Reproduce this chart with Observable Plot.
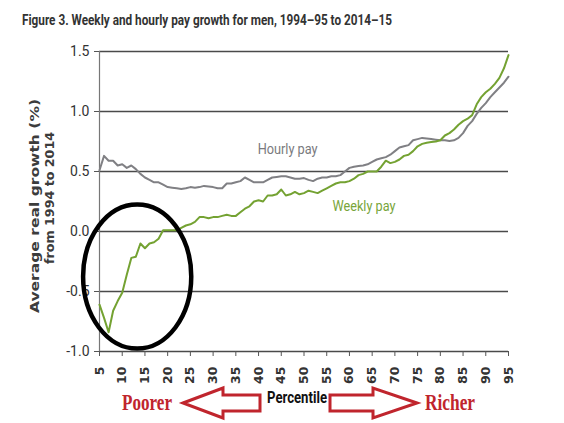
<!DOCTYPE html>
<html>
<head>
<meta charset="utf-8">
<script src="https://cdn.jsdelivr.net/npm/d3@7"></script>
<script src="https://cdn.jsdelivr.net/npm/@observablehq/plot@0.6"></script>
<style>
  body { margin: 0; background: #fff; width: 564px; height: 423px; overflow: hidden; }
  #title { height: 38px; box-sizing: border-box; padding: 11px 0 0 22px; white-space: nowrap; }
  #title span { display: inline-block; transform: scaleX(0.76); transform-origin: 0 50%; font-family: Roboto, sans-serif; font-weight: bold; font-size: 15.5px; color: #333; }
  svg { display: block; }
</style>
</head>
<body>
<div id="title"><span>Figure 3. Weekly and hourly pay growth for men, 1994–95 to 2014–15</span></div>
<div id="chart"></div>
<script>
const percentiles = [5,6,7,8,9,10,11,12,13,14,15,16,17,18,19,20,21,22,23,24,25,26,27,28,29,30,31,32,33,34,35,36,37,38,39,40,41,42,43,44,45,46,47,48,49,50,51,52,53,54,55,56,57,58,59,60,61,62,63,64,65,66,67,68,69,70,71,72,73,74,75,76,77,78,79,80,81,82,83,84,85,86,87,88,89,90,91,92,93,94,95];

const weeklyPay = [-0.61,-0.72,-0.84,-0.66,-0.58,-0.51,-0.36,-0.22,-0.21,-0.10,-0.14,-0.10,-0.09,-0.06,0.01,0.01,0.01,0.01,0.03,0.05,0.06,0.08,0.12,0.12,0.11,0.12,0.12,0.13,0.14,0.13,0.13,0.16,0.19,0.21,0.25,0.26,0.25,0.30,0.30,0.31,0.35,0.30,0.31,0.33,0.31,0.32,0.34,0.33,0.32,0.34,0.36,0.38,0.40,0.41,0.41,0.42,0.44,0.47,0.48,0.50,0.50,0.50,0.54,0.59,0.57,0.58,0.60,0.63,0.64,0.67,0.71,0.73,0.74,0.745,0.75,0.76,0.80,0.82,0.85,0.89,0.92,0.94,0.97,1.06,1.12,1.16,1.19,1.23,1.28,1.36,1.47];

const hourlyPay = [0.51,0.63,0.59,0.59,0.55,0.56,0.53,0.55,0.52,0.48,0.45,0.43,0.41,0.41,0.39,0.37,0.365,0.36,0.355,0.36,0.37,0.365,0.37,0.38,0.375,0.37,0.36,0.36,0.40,0.40,0.41,0.42,0.45,0.43,0.41,0.41,0.41,0.43,0.45,0.455,0.46,0.46,0.45,0.44,0.44,0.445,0.43,0.42,0.44,0.45,0.45,0.46,0.46,0.47,0.50,0.53,0.54,0.545,0.55,0.56,0.58,0.60,0.61,0.62,0.64,0.67,0.70,0.71,0.72,0.76,0.77,0.78,0.775,0.77,0.765,0.76,0.76,0.755,0.76,0.78,0.82,0.88,0.92,0.98,1.03,1.07,1.12,1.16,1.20,1.24,1.29];

const yTicks = [-1.0, -0.5, 0.0, 0.5, 1.0, 1.5];
const xTicks = [5,10,15,20,25,30,35,40,45,50,55,60,65,70,75,80,85,90,95];
const seriesLabels = ["Hourly pay", "Weekly pay"];
const yLabelLines = ["Average real growth (%)", "from 1994 to 2014"];
const xLabel = "Percentile";
const sideLabels = ["Poorer", "Richer"];

const weekly = percentiles.map((p, i) => ({p, v: weeklyPay[i]}));
const hourly = percentiles.map((p, i) => ({p, v: hourlyPay[i]}));

const GREEN = "#74a232";
const GRAY = "#808084";
const RED = "#c0252d";

const chart = Plot.plot({
  width: 564,
  height: 385,
  marginTop: 13,
  marginBottom: 72,
  marginLeft: 99,
  marginRight: 56,
  style: {background: "#fff", overflow: "visible"},
  x: {domain: [5, 95]},
  y: {domain: [-1, 1.5]},
  marks: [
    Plot.ruleY(yTicks, {stroke: "#4a4a4a", strokeWidth: 1.4}),
    Plot.ruleX([5], {stroke: "#777", strokeWidth: 1.2}),
    Plot.axisY({ticks: yTicks, tickFormat: d => d.toFixed(1), tickSize: 5, tickPadding: 5, label: null,
      fontFamily: "Roboto, sans-serif", fontSize: 14, fill: "#333", stroke: "#555"}),
    Plot.axisX({ticks: xTicks, tickRotate: -90, tickSize: 5, tickPadding: 10, label: null,
      fontFamily: "DejaVu Sans, sans-serif", fontWeight: "bold", fontSize: 12.5, fill: "#333", stroke: "#555"}),
    Plot.line(hourly, {x: "p", y: "v", stroke: GRAY, strokeWidth: 2}),
    Plot.line(weekly, {x: "p", y: "v", stroke: GREEN, strokeWidth: 2}),
    Plot.text([seriesLabels[0]], {x: 46.4, y: 0.69, text: d => d, fill: "#7a7a7e", fontSize: 15,
      fontFamily: "Roboto, sans-serif"}),
    Plot.text([seriesLabels[1]], {x: 63.2, y: 0.21, text: d => d, fill: "#78a53a", fontSize: 15,
      fontFamily: "Roboto, sans-serif"})
  ]
});

document.getElementById("chart").appendChild(chart);

const svg = d3.select(chart);
const xs = chart.scale("x"), ys = chart.scale("y");

// shrink the series labels to the reference's condensed widths
svg.selectAll("text").filter(function() { return this.textContent === seriesLabels[0]; })
  .attr("textLength", 60).attr("lengthAdjust", "spacingAndGlyphs");
svg.selectAll("text").filter(function() { return this.textContent === seriesLabels[1]; })
  .attr("textLength", 63).attr("lengthAdjust", "spacingAndGlyphs");

// Highlight ellipse around the lower percentiles
const cx = xs.apply(13.4), cy = ys.apply(-0.38);
svg.append("ellipse")
  .attr("cx", cx).attr("cy", cy)
  .attr("rx", xs.apply(13.4 + 11.9) - cx)
  .attr("ry", ys.apply(-0.38 - 0.6) - cy)
  .attr("fill", "none").attr("stroke", "#000").attr("stroke-width", 4.5);

// Y axis title (two rotated lines)
const yMid = (ys.apply(1.5) + ys.apply(-1)) / 2 + 5;
[[yLabelLines[0], 39, 0, 214], [yLabelLines[1], 54, -8, 132]].forEach(([t, x, dy, len]) => {
  svg.append("text")
    .attr("transform", `translate(${x},${yMid + dy}) rotate(-90)`)
    .attr("text-anchor", "middle")
    .attr("font-family", "DejaVu Sans, sans-serif")
    .attr("font-weight", "bold")
    .attr("font-size", 13)
    .attr("fill", "#3c3c3c")
    .attr("textLength", len).attr("lengthAdjust", "spacingAndGlyphs")
    .text(t);
});

// Bottom annotation: Percentile with arrows
const baseY = ys.apply(-1);
const ay = baseY + 52; // arrow centre line
svg.append("text")
  .attr("x", 297).attr("y", ay)
  .attr("text-anchor", "middle")
  .attr("font-family", "Roboto, sans-serif")
  .attr("font-weight", "bold").attr("font-size", 17).attr("fill", "#111")
  .attr("textLength", 60).attr("lengthAdjust", "spacingAndGlyphs")
  .text(xLabel);

function arrow(tail, base, tip) {
  return `M${tip},${ay} L${base},${ay - 15} L${base},${ay - 8} L${tail},${ay - 8} L${tail},${ay + 8} L${base},${ay + 8} L${base},${ay + 15} Z`;
}
svg.append("path").attr("d", arrow(260, 223, 183))
  .attr("fill", "#fff").attr("stroke", RED).attr("stroke-width", 3).attr("stroke-linejoin", "miter");
svg.append("path").attr("d", arrow(330, 373, 417))
  .attr("fill", "#fff").attr("stroke", RED).attr("stroke-width", 3).attr("stroke-linejoin", "miter");

[[sideLabels[0], 147], [sideLabels[1], 450]].forEach(([t, x]) => {
  svg.append("text")
    .attr("x", x).attr("y", ay + 7)
    .attr("text-anchor", "middle")
    .attr("font-family", "Liberation Serif, serif")
    .attr("font-weight", "bold").attr("font-size", 23).attr("fill", RED)
    .attr("textLength", 50).attr("lengthAdjust", "spacingAndGlyphs")
    .text(t);
});
</script>
</body>
</html>
